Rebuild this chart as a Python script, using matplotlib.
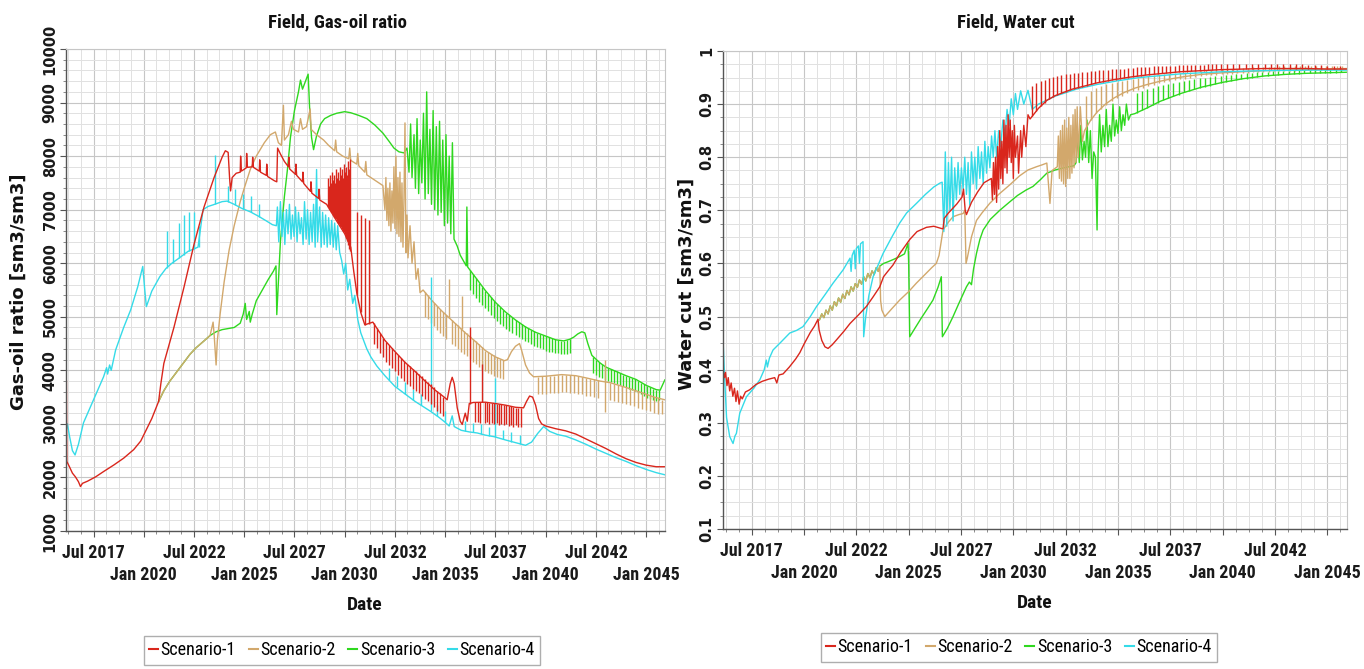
import numpy as np
import matplotlib
matplotlib.use("Agg")
import matplotlib.pyplot as plt
from matplotlib import font_manager
from matplotlib.lines import Line2D
from matplotlib.ticker import MultipleLocator, FixedLocator, FuncFormatter

SCENARIOS = ["Scenario-1", "Scenario-2", "Scenario-3", "Scenario-4"]
COLORS = ["#d9261c", "#d2a86c", "#2fd81f", "#35dbe8"]

# ---------------- Field gas-oil ratio [sm3/sm3] ----------------
gor_s1_t = [2016.15, 2016.17, 2016.30, 2016.45, 2016.60, 2016.75, 2016.85, 2016.95, 2017.20, 2017.60,
            2018.00, 2018.50, 2019.00, 2019.50, 2019.85, 2020.10, 2020.40, 2020.74, 2020.85, 2021.00,
            2021.50, 2022.00, 2022.50, 2023.00, 2023.50, 2023.90, 2024.06, 2024.20, 2024.27, 2024.32,
            2024.40, 2024.60, 2024.80, 2024.82, 2024.86, 2025.10, 2025.12, 2025.16, 2025.40, 2025.42,
            2025.46, 2025.75, 2025.77, 2025.81, 2026.10, 2026.12, 2026.16, 2026.50, 2026.62, 2026.66,
            2026.80, 2027.00, 2027.20, 2027.22, 2027.26, 2027.55, 2027.57, 2027.61, 2027.90, 2027.92,
            2027.96, 2028.30, 2028.32, 2028.36, 2028.70, 2028.72, 2028.76, 2029.10, 2029.50, 2030.00,
            2030.30, 2030.45, 2030.60, 2030.80, 2031.00, 2031.40, 2032.00, 2032.50, 2033.00, 2033.50,
            2034.00, 2034.50, 2034.95, 2035.10, 2035.25, 2035.35, 2035.45, 2035.60, 2035.75, 2035.85,
            2036.00, 2036.10, 2036.20, 2036.40, 2037.00, 2037.50, 2038.00, 2038.50, 2038.90, 2039.05,
            2039.20, 2039.35, 2039.50, 2039.65, 2039.80, 2040.00, 2040.50, 2041.00, 2041.50, 2042.00,
            2042.50, 2043.00, 2043.50, 2044.00, 2044.50, 2045.00, 2045.50, 2045.93]
gor_s1_v = [3800, 2300, 2200, 2080, 2010, 1920, 1830, 1890, 1930, 2010,
            2110, 2230, 2360, 2520, 2680, 2870, 3100, 3420, 3750, 4130,
            4800, 5550, 6350, 7050, 7600, 7980, 8100, 8070, 7600, 7350,
            7600, 7680, 7700, 8000, 7720, 7780, 8050, 7790, 7800, 7980,
            7790, 7720, 7930, 7700, 7640, 7850, 7620, 7540, 7520, 8150,
            8040, 7900, 7800, 7980, 7760, 7660, 7850, 7640, 7520, 7700,
            7490, 7340, 7520, 7310, 7210, 7380, 7180, 7100, 6850, 6550,
            6300, 5850, 5450, 5080, 4850, 4900, 4560, 4350, 4150, 3980,
            3800, 3630, 3500, 3450, 3750, 3870, 3750, 3300, 3050, 2990,
            3200, 3050, 3380, 3400, 3405, 3380, 3350, 3310, 3300, 3420,
            3520, 3500, 3350, 3100, 3000, 2960, 2910, 2870, 2810, 2720,
            2630, 2540, 2440, 2350, 2280, 2230, 2200, 2200]
# vertical bursts / teeth: time, bottom, top
gor_s1_st = [2029.15, 2029.20, 2029.25, 2029.30, 2029.35, 2029.40, 2029.45, 2029.50, 2029.55, 2029.60,
             2029.65, 2029.70, 2029.75, 2029.80, 2029.85, 2029.90, 2029.95, 2030.00, 2030.05, 2030.10,
             2030.15, 2030.20, 2030.25, 2030.62, 2030.80, 2031.00, 2031.20, 2031.45, 2031.60, 2031.75,
             2031.90, 2032.05, 2032.20, 2032.35, 2032.50, 2032.65, 2032.80, 2032.95, 2033.10, 2033.25,
             2033.40, 2033.55, 2033.70, 2033.85, 2034.00, 2034.15, 2034.30, 2034.45, 2034.60, 2034.75,
             2034.90, 2036.22, 2036.50, 2036.62, 2036.74, 2036.85, 2036.96, 2037.08, 2037.20, 2037.32,
             2037.44, 2037.56, 2037.68, 2037.80, 2037.92, 2038.04, 2038.16, 2038.28, 2038.40, 2038.52,
             2038.64, 2038.76]
gor_s1_slo = [7050, 7020, 6990, 6960, 6930, 6900, 6870, 6850, 6820, 6790,
              6760, 6730, 6700, 6670, 6640, 6610, 6580, 6550, 6480, 6410,
              6340, 6270, 6230, 5400, 5080, 4850, 4870, 4500, 4420, 4330,
              4240, 4160, 4100, 4040, 3980, 3920, 3860, 3800, 3750, 3710,
              3660, 3620, 3570, 3520, 3470, 3420, 3370, 3310, 3250, 3200,
              3140, 3380, 3030, 3040, 3020, 3410, 3010, 3030, 3000, 3020,
              2990, 3010, 2980, 3000, 2970, 2990, 2960, 2980, 2950, 2970,
              2940, 2950]
gor_s1_shi = [7600, 7450, 7650, 7500, 7700, 7550, 7650, 7500, 7750, 7600,
              7700, 7550, 7800, 7650, 7750, 7600, 7850, 7700, 7800, 7650,
              7900, 7750, 7950, 6950, 6900, 6850, 6800, 4880, 4790, 4700,
              4610, 4530, 4470, 4410, 4350, 4290, 4230, 4170, 4120, 4080,
              4030, 3990, 3940, 3890, 3840, 3790, 3740, 3680, 3620, 3570,
              3510, 4800, 3400, 3405, 3410, 4120, 3405, 3400, 3395, 3390,
              3385, 3380, 3372, 3365, 3355, 3345, 3335, 3325, 3315, 3305,
              3300, 3300]

gor_s2_t = [2020.74, 2021.00, 2021.30, 2021.60, 2022.00, 2022.30, 2022.60, 2023.00, 2023.30, 2023.45,
            2023.50, 2023.60, 2023.66, 2023.80, 2024.00, 2024.25, 2024.50, 2024.80, 2025.00, 2025.30,
            2025.60, 2026.00, 2026.30, 2026.55, 2026.70, 2026.85, 2026.95, 2027.00, 2027.20, 2027.35,
            2027.45, 2027.70, 2027.80, 2027.90, 2028.10, 2028.28, 2028.33, 2028.60, 2028.95, 2029.20,
            2029.50, 2029.55, 2029.60, 2029.90, 2030.20, 2030.25, 2030.30, 2030.60, 2030.65, 2030.70,
            2031.00, 2031.05, 2031.10, 2031.50, 2031.90, 2032.00, 2032.05, 2032.10, 2032.15, 2032.20,
            2032.25, 2032.30, 2032.35, 2032.40, 2032.45, 2032.50, 2032.55, 2032.60, 2032.65, 2032.70,
            2032.75, 2032.80, 2032.85, 2032.90, 2032.95, 2033.00, 2033.05, 2033.10, 2033.15, 2033.25,
            2033.35, 2033.45, 2033.55, 2033.65, 2033.75, 2033.90, 2034.30, 2034.80, 2035.20, 2035.60,
            2036.00, 2036.50, 2037.00, 2037.50, 2037.95, 2038.10, 2038.30, 2038.50, 2038.70, 2038.80,
            2039.00, 2039.20, 2039.40, 2040.00, 2040.80, 2041.50, 2042.00, 2042.70, 2043.20, 2044.00,
            2044.80, 2045.40, 2045.93]
gor_s2_v = [3420, 3620, 3800, 3950, 4150, 4300, 4420, 4550, 4650, 4900,
            4680, 4100, 4550, 5050, 5650, 6250, 6700, 7150, 7400, 7750,
            8000, 8250, 8400, 8450, 8250, 8200, 8950, 8300, 8400, 8650,
            8500, 8450, 8700, 8500, 8550, 8880, 8500, 8400, 8300, 8200,
            8100, 8300, 8080, 8000, 7950, 8150, 7920, 7850, 8050, 7820,
            7700, 7900, 7650, 7550, 7450, 7000, 7600, 6800, 7400, 6700,
            7500, 6600, 7350, 6750, 7800, 6650, 8000, 6550, 7600, 6500,
            7700, 6400, 7500, 6300, 7200, 8620, 6200, 6900, 6100, 6700,
            6000, 6400, 5700, 5900, 5450, 5500, 5320, 5120, 4980, 4840,
            4700, 4540, 4370, 4250, 4180, 4200, 4350, 4450, 4500, 4380,
            4100, 3950, 3880, 3890, 3920, 3900, 3860, 3800, 3770, 3680,
            3580, 3500, 3450]
gor_s2_st = [2034.00, 2034.15, 2034.30, 2034.45, 2034.60, 2034.75, 2034.90, 2035.05, 2035.35, 2035.50,
             2035.65, 2035.80, 2035.95, 2036.10, 2036.25, 2036.40, 2036.55, 2036.70, 2036.85, 2037.00,
             2037.15, 2037.30, 2037.45, 2037.60, 2037.75, 2037.90, 2035.20, 2035.85,
             2039.60, 2039.80, 2040.00, 2040.20, 2040.40, 2040.60, 2040.80, 2041.00, 2041.20, 2041.40,
             2041.60, 2041.80, 2042.00, 2042.20, 2042.40, 2042.60, 2043.20, 2043.40, 2043.60, 2043.80,
             2044.00, 2044.20, 2044.40, 2044.60, 2044.80, 2045.00, 2045.20, 2045.40, 2045.60, 2045.80,
             2042.95]
gor_s2_slo = [5000, 4950, 4880, 4820, 4760, 4700, 4640, 4580, 4500, 4450,
              4400, 4350, 4300, 4260, 4210, 4160, 4110, 4060, 4010, 3980,
              3950, 3930, 3900, 3880, 3860, 3840, 4980, 4770,
              3550, 3560, 3560, 3570, 3570, 3580, 3590, 3590, 3585, 3575,
              3565, 3550, 3530, 3515, 3500, 3490, 3450, 3430, 3410, 3390,
              3370, 3350, 3330, 3300, 3280, 3260, 3240, 3210, 3190, 3180,
              3230]
gor_s2_shi = [5470, 5400, 5320, 5260, 5200, 5140, 5090, 5030, 4940, 4880,
              4840, 4790, 4740, 4690, 4640, 4590, 4540, 4490, 4440, 4370,
              4340, 4310, 4280, 4250, 4220, 4190, 5700, 5380,
              3880, 3885, 3890, 3895, 3900, 3910, 3920, 3920, 3915, 3905,
              3895, 3880, 3860, 3845, 3830, 3815, 3770, 3750, 3730, 3705,
              3680, 3655, 3630, 3605, 3580, 3560, 3535, 3500, 3475, 3455,
              4200]

gor_s3_t = [2020.74, 2021.00, 2021.30, 2021.60, 2022.00, 2022.30, 2022.60, 2023.00, 2023.30, 2023.60,
            2023.90, 2024.20, 2024.50, 2024.80, 2024.95, 2025.05, 2025.12, 2025.25, 2025.30, 2025.40,
            2025.60, 2025.90, 2026.20, 2026.45, 2026.58, 2026.62, 2026.68, 2026.80, 2027.00, 2027.15,
            2027.30, 2027.50, 2027.70, 2027.80, 2027.90, 2028.05, 2028.18, 2028.26, 2028.35, 2028.45,
            2028.60, 2028.80, 2029.00, 2029.30, 2029.60, 2030.00, 2030.30, 2030.70, 2031.10, 2031.50,
            2031.90, 2032.20, 2032.45, 2032.70, 2032.95, 2033.10, 2033.20, 2033.28, 2033.35, 2033.45,
            2033.52, 2033.60, 2033.68, 2033.76, 2033.84, 2033.92, 2034.00, 2034.08, 2034.16, 2034.24,
            2034.32, 2034.40, 2034.48, 2034.56, 2034.64, 2034.72, 2034.80, 2034.88, 2034.96, 2035.04,
            2035.12, 2035.20, 2035.28, 2035.36, 2035.44, 2035.60, 2035.75, 2035.90, 2036.05, 2036.08,
            2036.12, 2036.50, 2037.00, 2037.50, 2038.00, 2038.50, 2039.00, 2039.50, 2040.00, 2040.50,
            2040.90, 2041.20, 2041.40, 2041.60, 2041.80, 2041.95, 2042.10, 2042.30, 2042.70, 2043.00,
            2043.50, 2044.00, 2044.50, 2045.00, 2045.50, 2045.70, 2045.93]
gor_s3_v = [3420, 3620, 3800, 3950, 4150, 4300, 4420, 4550, 4650, 4720,
            4760, 4780, 4800, 4880, 5050, 5250, 4950, 5100, 4900, 5050,
            5300, 5500, 5700, 5850, 5950, 5040, 5500, 6400, 7250, 7750,
            8350, 8850, 9200, 9420, 9250, 9400, 9530, 8850, 8350, 8120,
            8380, 8600, 8700, 8760, 8800, 8830, 8810, 8760, 8700, 8580,
            8430, 8280, 8150, 8080, 8060, 8150, 7700, 8600, 7600, 8400,
            7400, 8700, 7300, 8300, 7500, 8800, 7200, 9200, 7300, 8500,
            7100, 8850, 7000, 8550, 6900, 8650, 6950, 8300, 6700, 8400,
            6750, 8000, 6550, 8250, 6450, 6320, 6150, 6050, 5950, 7050,
            5930, 5740, 5490, 5270, 5090, 4940, 4810, 4710, 4640, 4570,
            4550, 4580, 4620, 4680, 4720, 4700, 4500, 4280, 4140, 4060,
            3980, 3900, 3830, 3720, 3640, 3630, 3820]
gor_s3_st = [2036.25, 2036.40, 2036.55, 2036.70, 2036.85, 2037.00, 2037.15, 2037.30, 2037.45, 2037.60,
             2037.75, 2037.90, 2038.05, 2038.20, 2038.35, 2038.50, 2038.65, 2038.80, 2038.95, 2039.10,
             2039.25, 2039.40, 2039.55, 2039.70, 2039.85, 2040.00, 2040.15, 2040.30, 2040.45, 2040.60,
             2040.75, 2040.90, 2041.05, 2041.20,
             2042.35, 2042.50, 2042.65, 2042.80, 2042.95, 2043.10, 2043.25, 2043.40, 2043.55, 2043.70,
             2043.85, 2044.00, 2044.15, 2044.30, 2044.45, 2044.60, 2044.75, 2044.90, 2045.05, 2045.20,
             2045.35, 2045.50, 2045.65]
gor_s3_slo = [5500, 5420, 5350, 5280, 5220, 5160, 5100, 5040, 4980, 4920,
              4860, 4820, 4780, 4740, 4700, 4660, 4620, 4580, 4550, 4520,
              4490, 4460, 4430, 4410, 4390, 4370, 4350, 4340, 4330, 4320,
              4310, 4300, 4310, 4330,
              3950, 3920, 3880, 3850, 3820, 3800, 3780, 3760, 3740, 3720,
              3700, 3680, 3660, 3640, 3620, 3580, 3550, 3520, 3490, 3460,
              3440, 3420, 3450]
gor_s3_shi = [5880, 5800, 5720, 5640, 5560, 5490, 5420, 5360, 5300, 5240,
              5180, 5120, 5070, 5030, 4990, 4940, 4900, 4860, 4830, 4790,
              4760, 4730, 4700, 4680, 4660, 4640, 4620, 4600, 4580, 4560,
              4550, 4550, 4560, 4580,
              4250, 4200, 4160, 4120, 4080, 4050, 4030, 4000, 3980, 3950,
              3920, 3900, 3880, 3860, 3840, 3800, 3770, 3740, 3710, 3690,
              3660, 3640, 3630]

gor_s4_t = [2016.15, 2016.20, 2016.30, 2016.45, 2016.58, 2016.75, 2017.00, 2017.50, 2018.00, 2018.15,
            2018.20, 2018.30, 2018.38, 2018.60, 2019.00, 2019.35, 2019.70, 2019.95, 2020.05, 2020.13,
            2020.40, 2020.80, 2021.10, 2021.40, 2021.70, 2021.95, 2022.20, 2022.45, 2022.70, 2022.95,
            2023.20, 2023.45, 2023.90, 2024.15, 2024.50, 2024.90, 2025.30, 2025.70, 2026.10, 2026.40,
            2026.60, 2026.65, 2026.72, 2026.80, 2026.88, 2026.95, 2027.02, 2027.10, 2027.18, 2027.25,
            2027.33, 2027.40, 2027.48, 2027.55, 2027.63, 2027.70, 2027.78, 2027.85, 2027.93, 2028.00,
            2028.08, 2028.15, 2028.23, 2028.30, 2028.38, 2028.45, 2028.53, 2028.60, 2028.65, 2028.75,
            2028.83, 2028.90, 2028.98, 2029.05, 2029.13, 2029.20, 2029.28, 2029.35, 2029.43, 2029.50,
            2029.58, 2029.65, 2029.75, 2029.85, 2029.95, 2030.05, 2030.15, 2030.25, 2030.40, 2030.50,
            2030.65, 2030.80, 2030.95, 2031.10, 2031.30, 2031.60, 2032.00, 2032.50, 2033.00, 2033.50,
            2034.00, 2034.25, 2034.70, 2035.00, 2035.20, 2035.35, 2035.45, 2035.80, 2036.20, 2036.60,
            2037.00, 2037.45, 2038.00, 2038.50, 2039.00, 2039.30, 2039.60, 2039.90, 2040.20, 2040.60,
            2041.00, 2041.50, 2042.00, 2042.50, 2043.00, 2043.50, 2044.00, 2044.50, 2045.00, 2045.50,
            2045.93]
gor_s4_v = [2900, 3000, 2780, 2500, 2420, 2620, 3020, 3450, 3880, 4050,
            3930, 4100, 4000, 4380, 4800, 5130, 5560, 5940, 5500, 5190,
            5480, 5750, 5900, 6000, 6080, 6150, 6220, 6260, 6300, 7000,
            7060, 7090, 7150, 7160, 7100, 7020, 6960, 6880, 6790, 6720,
            6700, 7050, 6400, 7150, 6500, 6950, 6350, 7000, 6550, 7100,
            6450, 6900, 6500, 7050, 6400, 6950, 6550, 6850, 6350, 7150,
            6450, 7000, 6350, 6950, 6400, 7100, 6300, 7750, 6400, 7050,
            6300, 6950, 6350, 6900, 6300, 6850, 6350, 6800, 6300, 6750,
            6250, 6700, 6200, 6050, 5800, 6000, 5500, 5700, 5250, 5400,
            4950, 4700, 4550, 4400, 4250, 4080, 3900, 3700, 3560, 3420,
            3300, 3240, 3120, 3030, 2960, 3150, 2950, 2880, 2850, 2830,
            2790, 2760, 2700, 2650, 2600, 2660, 2820, 2950, 2860, 2800,
            2770, 2700, 2620, 2530, 2450, 2370, 2300, 2220, 2150, 2090,
            2050]
gor_s4_st = [2021.15, 2021.45, 2021.75, 2022.00, 2022.25, 2022.50, 2022.75, 2023.55, 2024.20, 2024.55,
             2024.95, 2025.35, 2025.75, 2034.27, 2037.50, 2032.20, 2032.60, 2033.00, 2033.40, 2033.80,
             2034.60, 2035.00, 2036.00, 2036.40, 2036.80, 2037.20, 2037.90, 2038.30, 2038.70]
gor_s4_slo = [5920, 6010, 6090, 6160, 6230, 6270, 6300, 7100, 7150, 7090,
              7010, 6950, 6870, 3240, 2755, 3820, 3680, 3560, 3440, 3350,
              3150, 3030, 2860, 2840, 2810, 2780, 2710, 2670, 2630]
gor_s4_shi = [6600, 6450, 6750, 6900, 6950, 6950, 6700, 8020, 7450, 7380,
              7300, 7250, 7100, 5750, 3850, 4050, 3900, 3780, 3660, 3560,
              3350, 3250, 3050, 3020, 2990, 2950, 2880, 2840, 2800]

# ---------------- Field water cut [sm3/sm3] ----------------
wc_s1_t = [2016.12, 2016.13, 2016.20, 2016.25, 2016.32, 2016.38, 2016.45, 2016.52, 2016.60, 2016.68,
           2016.75, 2016.82, 2016.90, 2016.97, 2017.05, 2017.20, 2017.40, 2017.70, 2018.00, 2018.30,
           2018.60, 2018.70, 2018.80, 2019.00, 2019.30, 2019.60, 2019.80, 2020.00, 2020.30, 2020.50,
           2020.67, 2020.72, 2020.85, 2021.00, 2021.15, 2021.35, 2021.55, 2021.90, 2022.20, 2022.60,
           2022.98, 2023.30, 2023.62, 2023.80, 2024.00, 2024.25, 2024.60, 2025.05, 2025.40, 2025.85,
           2026.20, 2026.55, 2026.64, 2026.70, 2026.90, 2027.30, 2027.55, 2027.62, 2027.70, 2027.76,
           2028.00, 2028.30, 2028.60, 2028.95, 2029.00, 2029.05, 2029.10, 2029.15, 2029.20, 2029.25,
           2029.30, 2029.35, 2029.40, 2029.45, 2029.50, 2029.55, 2029.60, 2029.65, 2029.70, 2029.75,
           2029.80, 2029.85, 2029.90, 2029.95, 2030.00, 2030.05, 2030.10, 2030.20, 2030.25, 2030.35,
           2030.40, 2030.50, 2030.60, 2030.70, 2030.80, 2031.20, 2031.60, 2032.00, 2032.40, 2032.80,
           2033.20, 2033.60, 2034.00, 2034.80, 2035.60, 2036.40, 2037.20, 2038.00, 2039.00, 2040.00,
           2041.00, 2042.00, 2043.00, 2044.00, 2045.00, 2045.93]
wc_s1_v = [0.155, 0.400, 0.385, 0.395, 0.370, 0.385, 0.360, 0.375, 0.350, 0.365,
           0.340, 0.360, 0.335, 0.350, 0.345, 0.358, 0.362, 0.372, 0.378, 0.382,
           0.385, 0.375, 0.390, 0.392, 0.405, 0.420, 0.432, 0.448, 0.470, 0.482,
           0.495, 0.475, 0.455, 0.443, 0.440, 0.447, 0.456, 0.472, 0.487, 0.503,
           0.519, 0.537, 0.556, 0.575, 0.585, 0.597, 0.620, 0.645, 0.660, 0.668,
           0.670, 0.666, 0.665, 0.685, 0.695, 0.712, 0.725, 0.740, 0.700, 0.692,
           0.715, 0.735, 0.752, 0.760, 0.720, 0.790, 0.730, 0.800, 0.715, 0.820,
           0.740, 0.850, 0.760, 0.830, 0.750, 0.870, 0.780, 0.860, 0.770, 0.880,
           0.800, 0.870, 0.790, 0.850, 0.760, 0.860, 0.800, 0.840, 0.770, 0.850,
           0.800, 0.860, 0.820, 0.880, 0.872, 0.892, 0.907, 0.916, 0.922, 0.928,
           0.932, 0.936, 0.940, 0.946, 0.951, 0.955, 0.958, 0.961, 0.963, 0.965,
           0.966, 0.967, 0.967, 0.967, 0.966, 0.966]
wc_s1_st = [2030.9, 2031.1, 2031.3, 2031.5, 2031.7, 2031.9, 2032.1, 2032.3, 2032.5, 2032.7,
            2032.9, 2033.1, 2033.3, 2033.5, 2033.7, 2033.9, 2034.1, 2034.3, 2034.5, 2034.7,
            2034.9, 2035.1, 2035.3, 2035.5, 2035.7, 2035.9, 2036.1, 2036.3, 2036.5, 2036.7,
            2036.9, 2037.1, 2037.3, 2037.5, 2037.7, 2037.9, 2038.1, 2038.3, 2038.5, 2038.7,
            2038.9, 2039.1, 2039.3, 2039.5, 2039.7, 2039.9, 2040.2, 2040.5, 2040.8, 2041.1,
            2041.4, 2041.7, 2042.0, 2042.3, 2042.6, 2042.9, 2043.2, 2043.5, 2043.8, 2044.1,
            2044.4, 2044.7, 2045.0, 2045.3, 2045.6]
wc_s1_slo = [0.877, 0.887, 0.896, 0.903, 0.909, 0.914, 0.917, 0.920, 0.923, 0.926,
             0.929, 0.931, 0.933, 0.935, 0.937, 0.939, 0.941, 0.942, 0.944, 0.945,
             0.946, 0.948, 0.949, 0.950, 0.951, 0.952, 0.953, 0.954, 0.955, 0.956,
             0.957, 0.958, 0.958, 0.959, 0.960, 0.960, 0.961, 0.961, 0.962, 0.962,
             0.963, 0.963, 0.964, 0.964, 0.964, 0.965, 0.965, 0.965, 0.966, 0.966,
             0.966, 0.967, 0.967, 0.967, 0.967, 0.967, 0.967, 0.967, 0.967, 0.967,
             0.967, 0.967, 0.966, 0.966, 0.966]
wc_s1_shi = [0.935, 0.940, 0.943, 0.946, 0.949, 0.951, 0.953, 0.955, 0.956, 0.957,
             0.958, 0.959, 0.960, 0.961, 0.962, 0.963, 0.964, 0.964, 0.965, 0.966,
             0.966, 0.967, 0.967, 0.968, 0.968, 0.969, 0.969, 0.970, 0.970, 0.971,
             0.971, 0.971, 0.972, 0.972, 0.972, 0.973, 0.973, 0.973, 0.974, 0.974,
             0.974, 0.974, 0.975, 0.975, 0.975, 0.975, 0.975, 0.975, 0.976, 0.976,
             0.976, 0.976, 0.976, 0.976, 0.976, 0.975, 0.975, 0.975, 0.975, 0.974,
             0.974, 0.973, 0.972, 0.972, 0.971]

wc_s2_t = [2020.74, 2020.85, 2020.95, 2021.05, 2021.15, 2021.25, 2021.35, 2021.45, 2021.55, 2021.65,
           2021.75, 2021.85, 2021.95, 2022.05, 2022.15, 2022.25, 2022.35, 2022.45, 2022.55, 2022.65,
           2022.75, 2022.85, 2022.95, 2023.05, 2023.15, 2023.25, 2023.35, 2023.45, 2023.55, 2023.62,
           2023.66, 2023.72, 2023.86, 2024.20, 2024.57, 2025.00, 2025.37, 2025.80, 2026.10, 2026.32,
           2026.45, 2026.55, 2026.64, 2026.90, 2027.12, 2027.40, 2027.60, 2027.68, 2027.74, 2027.80,
           2028.00, 2028.24, 2028.50, 2028.87, 2029.30, 2029.83, 2030.30, 2030.70, 2031.10, 2031.40,
           2031.60, 2031.75, 2031.85, 2032.10, 2032.15, 2032.20, 2032.25, 2032.30, 2032.35, 2032.40,
           2032.45, 2032.50, 2032.55, 2032.60, 2032.65, 2032.70, 2032.75, 2032.80, 2032.85, 2032.90,
           2032.95, 2033.00, 2033.05, 2033.10, 2033.20, 2033.30, 2033.40, 2033.70, 2034.00, 2034.40,
           2034.83, 2035.30, 2035.80, 2036.40, 2037.00, 2037.60, 2038.20, 2039.00, 2040.00, 2041.00,
           2042.00, 2043.00, 2044.00, 2045.00, 2045.93]
wc_s2_v = [0.494, 0.505, 0.498, 0.512, 0.505, 0.520, 0.512, 0.528, 0.520, 0.535,
           0.527, 0.542, 0.534, 0.549, 0.541, 0.556, 0.548, 0.562, 0.555, 0.569,
           0.561, 0.575, 0.567, 0.581, 0.573, 0.586, 0.579, 0.592, 0.585, 0.595,
           0.530, 0.512, 0.500, 0.515, 0.531, 0.547, 0.563, 0.580, 0.592, 0.600,
           0.615, 0.640, 0.663, 0.678, 0.688, 0.692, 0.694, 0.700, 0.600, 0.610,
           0.650, 0.681, 0.695, 0.713, 0.730, 0.748, 0.765, 0.776, 0.782, 0.786,
           0.789, 0.713, 0.775, 0.782, 0.840, 0.760, 0.850, 0.755, 0.860, 0.750,
           0.870, 0.745, 0.855, 0.760, 0.875, 0.760, 0.860, 0.770, 0.880, 0.780,
           0.890, 0.790, 0.895, 0.800, 0.895, 0.830, 0.850, 0.870, 0.885, 0.900,
           0.912, 0.922, 0.930, 0.937, 0.943, 0.948, 0.952, 0.956, 0.959, 0.961,
           0.963, 0.964, 0.965, 0.966, 0.967]
wc_s2_st = [2033.45, 2033.70, 2033.95, 2034.20, 2034.45, 2034.70, 2034.95, 2035.20, 2035.45, 2035.70,
            2035.95, 2036.20, 2036.45, 2036.70, 2036.95, 2037.20, 2037.45, 2037.70, 2037.95, 2038.20,
            2038.45, 2038.70, 2038.95, 2039.20, 2039.45, 2039.70, 2039.95, 2040.20, 2040.45, 2040.70,
            2040.95, 2041.20, 2041.45, 2041.70, 2041.95, 2042.20, 2042.45, 2042.70, 2042.95, 2043.20,
            2043.45, 2043.70, 2043.95, 2044.20, 2044.45, 2044.70, 2044.95, 2045.20, 2045.45, 2045.70]
wc_s2_slo = [0.852, 0.870, 0.884, 0.891, 0.899, 0.906, 0.912, 0.916, 0.920, 0.924,
             0.927, 0.931, 0.934, 0.936, 0.939, 0.941, 0.943, 0.945, 0.947, 0.948,
             0.950, 0.951, 0.952, 0.954, 0.955, 0.955, 0.956, 0.957, 0.957, 0.958,
             0.959, 0.959, 0.960, 0.960, 0.961, 0.961, 0.962, 0.962, 0.963, 0.963,
             0.963, 0.964, 0.964, 0.964, 0.965, 0.965, 0.965, 0.966, 0.966, 0.966]
wc_s2_shi = [0.915, 0.925, 0.930, 0.935, 0.938, 0.940, 0.942, 0.944, 0.946, 0.948,
             0.950, 0.952, 0.953, 0.954, 0.955, 0.956, 0.957, 0.958, 0.959, 0.960,
             0.961, 0.962, 0.963, 0.964, 0.964, 0.965, 0.966, 0.966, 0.967, 0.967,
             0.968, 0.968, 0.969, 0.969, 0.970, 0.970, 0.970, 0.971, 0.971, 0.971,
             0.971, 0.972, 0.972, 0.972, 0.972, 0.972, 0.972, 0.972, 0.972, 0.972]

wc_s3_t = [2020.74, 2020.85, 2020.95, 2021.05, 2021.15, 2021.25, 2021.35, 2021.45, 2021.55, 2021.65,
           2021.75, 2021.85, 2021.95, 2022.05, 2022.15, 2022.25, 2022.35, 2022.45, 2022.55, 2022.65,
           2022.75, 2022.85, 2022.95, 2023.05, 2023.15, 2023.25, 2023.35, 2023.45, 2023.55, 2023.62,
           2023.80, 2024.00, 2024.30, 2024.57, 2024.80, 2024.97, 2025.00, 2025.05, 2025.30, 2025.60,
           2025.90, 2026.16, 2026.40, 2026.56, 2026.61, 2026.85, 2027.12, 2027.40, 2027.76, 2027.90,
           2028.00, 2028.10, 2028.24, 2028.40, 2028.56, 2028.90, 2029.35, 2029.80, 2030.20, 2030.60,
           2030.94, 2031.30, 2031.60, 2032.00, 2032.40, 2032.90, 2033.00, 2033.08, 2033.15, 2033.22,
           2033.30, 2033.38, 2033.45, 2033.52, 2033.60, 2033.68, 2033.76, 2033.84, 2033.92, 2034.00,
           2034.05, 2034.12, 2034.20, 2034.28, 2034.36, 2034.44, 2034.52, 2034.60, 2034.68, 2034.76,
           2034.84, 2034.92, 2035.00, 2035.08, 2035.16, 2035.24, 2035.32, 2035.40, 2035.50, 2035.60,
           2035.80, 2036.40, 2037.00, 2038.00, 2039.00, 2040.00, 2041.00, 2042.00, 2043.00, 2044.00,
           2045.00, 2045.93]
wc_s3_v = [0.494, 0.505, 0.498, 0.512, 0.505, 0.520, 0.512, 0.528, 0.520, 0.535,
           0.527, 0.542, 0.534, 0.549, 0.541, 0.556, 0.548, 0.562, 0.555, 0.569,
           0.561, 0.575, 0.567, 0.581, 0.573, 0.586, 0.579, 0.592, 0.585, 0.595,
           0.600, 0.603, 0.608, 0.613, 0.618, 0.638, 0.600, 0.462, 0.478, 0.497,
           0.515, 0.531, 0.555, 0.575, 0.462, 0.478, 0.500, 0.525, 0.556, 0.565,
           0.560, 0.590, 0.619, 0.645, 0.663, 0.683, 0.700, 0.715, 0.728, 0.738,
           0.745, 0.758, 0.770, 0.776, 0.780, 0.784, 0.790, 0.840, 0.790, 0.860,
           0.795, 0.830, 0.800, 0.870, 0.790, 0.850, 0.760, 0.810, 0.800, 0.663,
           0.810, 0.880, 0.810, 0.860, 0.820, 0.890, 0.820, 0.860, 0.830, 0.900,
           0.840, 0.870, 0.845, 0.895, 0.850, 0.880, 0.860, 0.900, 0.870, 0.880,
           0.882, 0.893, 0.905, 0.920, 0.932, 0.941, 0.948, 0.953, 0.956, 0.958,
           0.959, 0.960]
wc_s3_st = [2035.90, 2036.15, 2036.40, 2036.65, 2036.90, 2037.15, 2037.40, 2037.65, 2037.90, 2038.15,
            2038.40, 2038.65, 2038.90, 2039.15, 2039.40, 2039.65, 2039.90, 2040.15, 2040.40, 2040.65,
            2040.90, 2041.15, 2041.40, 2041.65, 2041.90, 2042.15, 2042.40, 2042.65, 2042.90, 2043.15,
            2043.40, 2043.65, 2043.90, 2044.15, 2044.40, 2044.65, 2044.90, 2045.15, 2045.40, 2045.65]
wc_s3_slo = [0.884, 0.888, 0.893, 0.898, 0.903, 0.907, 0.911, 0.915, 0.918, 0.922,
             0.925, 0.928, 0.931, 0.933, 0.935, 0.937, 0.940, 0.942, 0.943, 0.945,
             0.947, 0.948, 0.950, 0.951, 0.952, 0.953, 0.954, 0.955, 0.956, 0.956,
             0.957, 0.957, 0.958, 0.958, 0.958, 0.959, 0.959, 0.959, 0.959, 0.960]
wc_s3_shi = [0.920, 0.925, 0.928, 0.931, 0.934, 0.936, 0.938, 0.940, 0.942, 0.944,
             0.946, 0.947, 0.949, 0.950, 0.951, 0.952, 0.953, 0.954, 0.955, 0.956,
             0.957, 0.958, 0.959, 0.960, 0.961, 0.961, 0.962, 0.962, 0.963, 0.963,
             0.964, 0.964, 0.964, 0.965, 0.965, 0.965, 0.965, 0.966, 0.966, 0.966]

wc_s4_t = [2016.12, 2016.20, 2016.30, 2016.45, 2016.61, 2016.70, 2016.77, 2016.93, 2017.25, 2017.60,
           2017.89, 2018.10, 2018.20, 2018.25, 2018.35, 2018.52, 2018.90, 2019.32, 2019.65, 2019.95,
           2020.30, 2020.60, 2021.00, 2021.39, 2021.87, 2022.20, 2022.25, 2022.30, 2022.40, 2022.45,
           2022.50, 2022.60, 2022.65, 2022.70, 2022.82, 2022.85, 2022.95, 2023.10, 2023.30, 2023.78,
           2024.20, 2024.57, 2024.90, 2025.37, 2025.80, 2026.20, 2026.48, 2026.60, 2026.68, 2026.75,
           2026.82, 2026.90, 2026.97, 2027.05, 2027.12, 2027.20, 2027.28, 2027.36, 2027.44, 2027.52,
           2027.60, 2027.68, 2027.76, 2027.84, 2027.92, 2028.00, 2028.08, 2028.16, 2028.24, 2028.32,
           2028.40, 2028.48, 2028.56, 2028.64, 2028.72, 2028.80, 2028.88, 2028.96, 2029.04, 2029.12,
           2029.20, 2029.30, 2029.40, 2029.50, 2029.60, 2029.70, 2029.80, 2029.90, 2030.00, 2030.10,
           2030.20, 2030.35, 2030.50, 2030.70, 2030.90, 2031.20, 2032.00, 2033.00, 2034.00, 2035.00,
           2036.00, 2038.00, 2040.00, 2042.00, 2044.00, 2045.93]
wc_s4_v = [0.469, 0.390, 0.310, 0.274, 0.261, 0.275, 0.280, 0.318, 0.349, 0.365,
           0.381, 0.400, 0.418, 0.405, 0.422, 0.437, 0.452, 0.469, 0.474, 0.481,
           0.500, 0.519, 0.541, 0.563, 0.588, 0.610, 0.585, 0.615, 0.625, 0.590,
           0.628, 0.633, 0.600, 0.637, 0.641, 0.462, 0.500, 0.540, 0.575, 0.619,
           0.650, 0.676, 0.695, 0.713, 0.730, 0.744, 0.751, 0.753, 0.660, 0.810,
           0.670, 0.790, 0.700, 0.800, 0.680, 0.780, 0.720, 0.790, 0.730, 0.780,
           0.740, 0.800, 0.730, 0.790, 0.710, 0.810, 0.750, 0.800, 0.740, 0.820,
           0.760, 0.810, 0.750, 0.830, 0.770, 0.820, 0.780, 0.840, 0.800, 0.850,
           0.800, 0.850, 0.820, 0.870, 0.840, 0.890, 0.860, 0.910, 0.880, 0.920,
           0.890, 0.925, 0.900, 0.926, 0.890, 0.900, 0.915, 0.928, 0.937, 0.944,
           0.950, 0.957, 0.961, 0.963, 0.964, 0.964]

X_RANGE = (2016.13, 2045.94)
# date ticks every 2.5 years: Jul labels on the first row, Jan labels on the second
JUL_TICKS = [2017.5, 2022.5, 2027.5, 2032.5, 2037.5, 2042.5]
JAN_TICKS = [2020, 2025, 2030, 2035, 2040, 2045]


def pick_font(*names):
    for name in names:
        try:
            font_manager.findfont(font_manager.FontProperties(family=name),
                                  fallback_to_default=False)
            return name
        except ValueError:
            continue
    return "DejaVu Sans"


NARROW = pick_font("Liberation Sans Narrow", "Roboto Condensed", "Liberation Sans")
WIDE = "DejaVu Sans"


def jul_label(x, pos):
    year = int(np.floor(x + 1e-6))
    if abs(x - year) < 1e-6:
        return ""
    return "Jul {}".format(year)


def jan_label(x, pos):
    return "Jan {}".format(int(round(x)))


def style_labels(labels, family, size, rotate=False):
    for lbl in labels:
        lbl.set_fontfamily(family)
        lbl.set_fontweight("bold")
        lbl.set_fontsize(size)
        lbl.set_color("#1a1a1a")
        if rotate:
            lbl.set_rotation(90)
            lbl.set_va("center")


def setup_axes(ax, ylim, ymajor, yminor, yfmt):
    ax.set_xlim(*X_RANGE)
    ax.set_ylim(*ylim)
    ax.xaxis.set_major_locator(FixedLocator(sorted(JUL_TICKS + JAN_TICKS)))
    ax.xaxis.set_minor_locator(MultipleLocator(0.625))
    ax.xaxis.set_major_formatter(FuncFormatter(jul_label))
    ax.yaxis.set_major_locator(MultipleLocator(ymajor))
    ax.yaxis.set_minor_locator(MultipleLocator(yminor))
    ax.yaxis.set_major_formatter(FuncFormatter(yfmt))
    ax.grid(which="major", color="#c6c6c6", lw=0.8)
    ax.grid(which="minor", color="#e1e1e1", lw=0.7)
    ax.set_axisbelow(True)
    for side in ("top", "right"):
        ax.spines[side].set_color("#c6c6c6")
        ax.spines[side].set_linewidth(0.8)
    for side in ("left", "bottom"):
        ax.spines[side].set_color("#555555")
        ax.spines[side].set_linewidth(1.0)
    ax.tick_params(which="major", length=4, width=0.8, color="#555555")
    ax.tick_params(which="minor", length=2.5, width=0.6, color="#777777")
    ax.tick_params(axis="x", which="major", pad=5)
    ax.tick_params(axis="y", which="major", pad=2)
    style_labels(ax.get_xticklabels(), NARROW, 13)
    style_labels(ax.get_yticklabels(), WIDE, 10.5, rotate=True)

    # second row of date labels (January ticks)
    sec = ax.secondary_xaxis("bottom")
    sec.xaxis.set_major_locator(FixedLocator(JAN_TICKS))
    sec.xaxis.set_major_formatter(FuncFormatter(jan_label))
    sec.xaxis.set_minor_locator(FixedLocator([]))
    sec.tick_params(axis="x", which="both", length=0, pad=25)
    sec.spines["bottom"].set_visible(False)
    style_labels(sec.get_xticklabels(), NARROW, 13)


def draw_series(ax, t, v, st, slo, shi, color):
    ax.plot(t, v, color=color, lw=1.0)
    if st:
        ax.vlines(st, slo, shi, color=color, lw=1.0)


def main():
    fig = plt.figure(figsize=(13.64, 6.69), dpi=100)
    ax1 = fig.add_axes([66 / 1364, 1 - 531 / 669, 599 / 1364, 482 / 669])
    ax2 = fig.add_axes([723 / 1364, 1 - 529 / 669, 624 / 1364, 478 / 669])

    gor = [
        (gor_s1_t, gor_s1_v, gor_s1_st, gor_s1_slo, gor_s1_shi),
        (gor_s2_t, gor_s2_v, gor_s2_st, gor_s2_slo, gor_s2_shi),
        (gor_s3_t, gor_s3_v, gor_s3_st, gor_s3_slo, gor_s3_shi),
        (gor_s4_t, gor_s4_v, gor_s4_st, gor_s4_slo, gor_s4_shi),
    ]
    wc = [
        (wc_s1_t, wc_s1_v, wc_s1_st, wc_s1_slo, wc_s1_shi),
        (wc_s2_t, wc_s2_v, wc_s2_st, wc_s2_slo, wc_s2_shi),
        (wc_s3_t, wc_s3_v, wc_s3_st, wc_s3_slo, wc_s3_shi),
        (wc_s4_t, wc_s4_v, [], [], []),
    ]
    # green under tan under cyan under red
    order = [2, 1, 3, 0]
    for idx in order:
        draw_series(ax1, *gor[idx], COLORS[idx])
        draw_series(ax2, *wc[idx], COLORS[idx])

    setup_axes(ax1, (1000, 10000), 1000, 200, lambda y, p: "{:d}".format(int(round(y))))
    setup_axes(ax2, (0.1, 1.0), 0.1, 0.025, lambda y, p: "{:g}".format(round(y, 3)))

    title_kw = dict(fontfamily=NARROW, fontweight="bold", fontsize=13.5, color="#111111",
                    ha="center", va="center")
    fig.text(337 / 1364, 1 - 22 / 669, "Field, Gas-oil ratio", **title_kw)
    fig.text(1016 / 1364, 1 - 22 / 669, "Field, Water cut", **title_kw)
    date_kw = dict(title_kw, fontsize=14)
    fig.text(365 / 1364, 1 - 605 / 669, "Date", **date_kw)
    fig.text(1035 / 1364, 1 - 603 / 669, "Date", **date_kw)

    ylab_kw = dict(fontfamily=WIDE, fontweight="bold", fontsize=13, color="#111111",
                   rotation=90, ha="center", va="center")
    fig.text(19 / 1364, 1 - 292 / 669, "Gas-oil ratio [sm3/sm3]", **ylab_kw)
    fig.text(687 / 1364, 1 - 284 / 669, "Water cut [sm3/sm3]", **ylab_kw)

    handles = [Line2D([], [], color=c, lw=1.5) for c in COLORS]
    for cx, top in ((342, 636), (1019, 633)):
        fig.legend(handles, SCENARIOS, loc="upper center", ncol=4,
                   bbox_to_anchor=(cx / 1364, 1 - top / 669),
                   prop=dict(family=NARROW, size=13), frameon=True, fancybox=False,
                   edgecolor="#9a9a9a", handlelength=0.5, handletextpad=0.15,
                   columnspacing=0.7, borderpad=0.3, borderaxespad=0)

    fig.savefig("out.png", dpi=100, facecolor="white")


if __name__ == "__main__":
    main()
